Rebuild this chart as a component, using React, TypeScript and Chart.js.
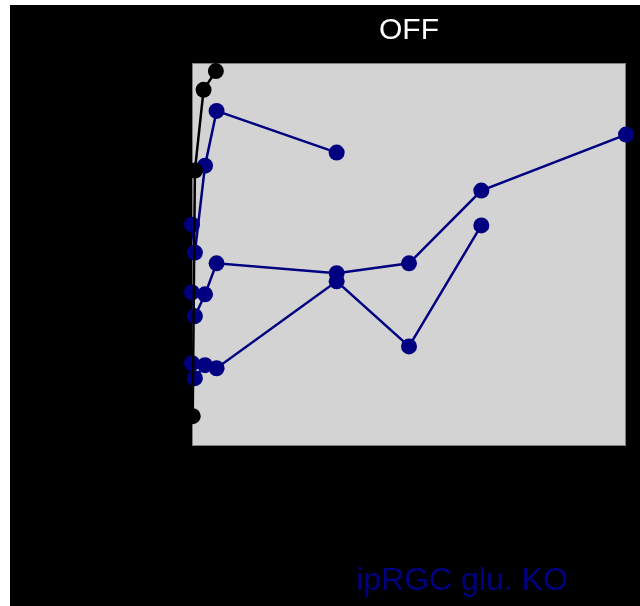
import React, { useEffect, useRef } from "react";
import { Chart, registerables } from "chart.js";

Chart.register(...registerables);

// x: time points; y: response (arbitrary units, axis labels not visible in reference)
const xBlack = [0.05, 0.2, 0.8, 1.65];
const yBlack = [7.8, 71.9, 93.0, 97.9];

const xSeries1 = [0, 0.2, 0.9, 1.7, 10];
const ySeries1 = [57.8, 50.5, 73.2, 87.5, 76.6];

const xSeries2 = [0, 0.2, 0.9, 1.7, 10, 15, 20, 30];
const ySeries2 = [40.1, 33.9, 39.6, 47.7, 45.1, 47.7, 66.7, 81.3];

const xSeries3 = [0, 0.2, 0.9, 1.7, 10, 15, 20];
const ySeries3 = [21.6, 17.7, 21.1, 20.3, 43.0, 26.0, 57.6];

const titleText = "OFF";
const labelText = "ipRGC glu. KO";

const pts = (xs: number[], ys: number[]) => xs.map((x, i) => ({ x, y: ys[i] }));

const bgPlugin = {
  id: "bgPlugin",
  beforeDraw(chart: any) {
    const { ctx, width, height, chartArea } = chart;
    ctx.save();
    ctx.fillStyle = "#000000";
    ctx.fillRect(0, 0, width, height);
    ctx.fillStyle = "#d3d3d3";
    ctx.fillRect(chartArea.left, chartArea.top, chartArea.right - chartArea.left, chartArea.bottom - chartArea.top);
    ctx.strokeStyle = "#808080";
    ctx.lineWidth = 1;
    ctx.strokeRect(chartArea.left + 0.5, chartArea.top + 0.5, chartArea.right - chartArea.left - 1, chartArea.bottom - chartArea.top - 1);
    ctx.restore();
  },
  afterDraw(chart: any) {
    const { ctx, chartArea } = chart;
    ctx.save();
    ctx.textAlign = "center";
    ctx.textBaseline = "alphabetic";
    ctx.fillStyle = "#ffffff";
    ctx.font = "30px 'Liberation Sans', Arial, sans-serif";
    ctx.fillText(titleText, (chartArea.left + chartArea.right) / 2, chartArea.top - 24);
    ctx.fillStyle = "#000080";
    ctx.font = "32px 'Liberation Sans', Arial, sans-serif";
    ctx.fillText(labelText, chartArea.left + 270, chartArea.bottom + 144);
    ctx.restore();
  },
};

export default function App() {
  const ref = useRef<HTMLCanvasElement | null>(null);
  useEffect(() => {
    if (!ref.current) return;
    const common = {
      showLine: true,
      borderWidth: 2.5,
      pointRadius: 8,
      pointHoverRadius: 8,
      pointBorderWidth: 0,
      clip: false as any,
    };
    const chart = new Chart(ref.current, {
      type: "scatter",
      data: {
        datasets: [
          { ...common, label: "control", data: pts(xBlack, yBlack), borderColor: "#000000", backgroundColor: "#000000" },
          { ...common, label: "KO 1", data: pts(xSeries1, ySeries1), borderColor: "#000080", backgroundColor: "#000080" },
          { ...common, label: "KO 2", data: pts(xSeries2, ySeries2), borderColor: "#000080", backgroundColor: "#000080" },
          { ...common, label: "KO 3", data: pts(xSeries3, ySeries3), borderColor: "#000080", backgroundColor: "#000080" },
        ],
      },
      options: {
        animation: false,
        responsive: false,
        maintainAspectRatio: false,
        layout: { padding: { left: 182, right: 14, top: 58, bottom: 160 } },
        plugins: { legend: { display: false }, tooltip: { enabled: false }, title: { display: false } },
        scales: {
          x: { type: "linear", min: 0, max: 30, display: false },
          y: { type: "linear", min: 0, max: 100, display: false },
        },
      },
      plugins: [bgPlugin],
    });
    return () => chart.destroy();
  }, []);
  return (
    <div style={{ position: "absolute", left: 10, top: 5, width: 630, height: 601 }}>
      <canvas ref={ref} width={630} height={601} style={{ display: "block" }} />
    </div>
  );
}
